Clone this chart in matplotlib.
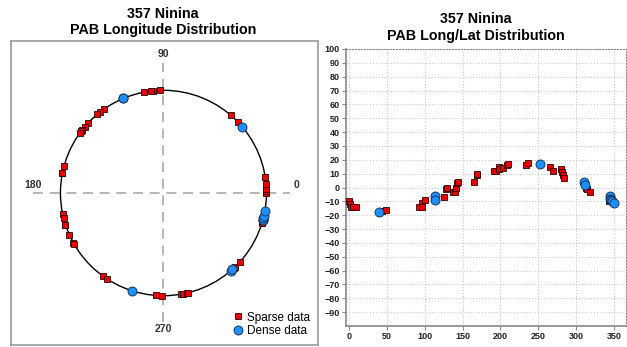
import numpy as np
import matplotlib
matplotlib.use("Agg")
import matplotlib.pyplot as plt

# PAB longitudes / latitudes (deg)
sparse_lon = [0, 1, 2, 5, 9, 44, 49, 92, 96, 97, 101, 125, 128, 130,
              137, 140, 142, 143, 144, 165, 169, 169, 192, 194, 198, 198,
              204, 209, 210, 234, 237, 266, 269, 280, 281, 283, 284,
              313, 314, 318, 343, 344]
sparse_lat = [-10, -12, -14, -14, -14, -17, -16, -14, -11, -14, -9, -7, -1, 0,
              -3, -3, 0, 3, 4, 4, 9, 10, 12, 12, 15, 13,
              14, 16, 17, 16, 18, 15, 12, 13, 11, 9, 7,
              0, -1, -3, -8, -10]
dense_lon = [40, 113, 113, 252, 311, 312, 345, 345, 346, 347, 350]
dense_lat = [-18, -6, -9, 17, 4, 2, -6, -8, -9, -10, -11]

polar_labels = ["0", "90", "180", "270"]
y_ticks = list(range(-90, 101, 10))
x_ticks = list(range(0, 351, 50))

red = '#e60000'
blue = '#1e8fff'

plt.rcParams['font.family'] = ['Liberation Sans', 'DejaVu Sans']

W, H = 627, 347
fig = plt.figure(figsize=(W / 100, H / 100), dpi=100)


def box(x0, y0, x1, y1):
    return [x0 / W, 1 - y1 / H, (x1 - x0) / W, (y1 - y0) / H]


# ---- left: longitude distribution on a circle ----
ax1 = fig.add_axes(box(11, 41, 318, 345))
ax1.set_xlim(-1.48, 1.50)
ax1.set_ylim(-1.48, 1.48)
ax1.set_xticks([])
ax1.set_yticks([])
for s in ax1.spines.values():
    s.set_color('#999999')
    s.set_linewidth(1.2)

ax1.plot([-1.27, 1.23], [0, 0], ls=(0, (6, 4)), color='#aaaaaa', lw=1.2, zorder=1)
ax1.plot([0, 0], [-1.26, 1.27], ls=(0, (6, 4)), color='#aaaaaa', lw=1.2, zorder=1)
ax1.add_patch(plt.Circle((0, 0), 1, fill=False, color='black', lw=1, zorder=2))

lab_kw = dict(fontsize=7.5, fontweight='bold', color='#333333')
ax1.text(1.29, 0.03, polar_labels[0], ha='center', va='bottom', **lab_kw)
ax1.text(0, 1.30, polar_labels[1], ha='center', va='bottom', **lab_kw)
ax1.text(-1.27, 0.03, polar_labels[2], ha='center', va='bottom', **lab_kw)
ax1.text(0, -1.28, polar_labels[3], ha='center', va='top', **lab_kw)

th_s = np.radians(sparse_lon)
th_d = np.radians(dense_lon)
ax1.plot(np.cos(th_s), np.sin(th_s), 's', ms=4.2, mfc=red, mec='#300000',
         mew=0.6, ls='none', zorder=3, label='Sparse data')
ax1.plot(np.cos(th_d), np.sin(th_d), 'o', ms=6.5, mfc=blue, mec='#102840',
         mew=0.6, ls='none', zorder=4, label='Dense data')
ax1.legend(loc='lower right', frameon=False, fontsize=8.5, handletextpad=0.2,
           handlelength=1.0, borderaxespad=0.6, labelspacing=0.1,
           borderpad=0.1)

fig.text(163 / W, 1 - 14 / H, "357 Ninina", ha='center', va='center',
         fontsize=10.3, fontweight='bold')
fig.text(163 / W, 1 - 30 / H, "PAB Longitude Distribution", ha='center',
         va='center', fontsize=10.3, fontweight='bold')

# ---- right: long/lat scatter ----
ax2 = fig.add_axes(box(346, 49, 626, 326))
ax2.set_xlim(-4, 366)
ax2.set_ylim(-100, 100)
ax2.set_xticks(x_ticks)
ax2.set_yticks(y_ticks)
ax2.grid(True, ls=':', color='#c8c8c8', lw=0.8)
ax2.set_axisbelow(True)
for side in ['left', 'bottom']:
    ax2.spines[side].set_color('#888888')
    ax2.spines[side].set_linewidth(1.2)
for side in ['top', 'right']:
    ax2.spines[side].set_color('#888888')
    ax2.spines[side].set_linestyle(':')
    ax2.spines[side].set_linewidth(0.8)
ax2.tick_params(length=3, width=0.8, color='#888888', labelsize=6.5, pad=1.5)
for t in ax2.get_xticklabels() + ax2.get_yticklabels():
    t.set_fontweight('bold')
    t.set_color('#222222')

ax2.plot(sparse_lon, sparse_lat, 's', ms=4.2, mfc=red, mec='#300000',
         mew=0.6, ls='none', zorder=3)
ax2.plot(dense_lon, dense_lat, 'o', ms=6.5, mfc=blue, mec='#102840',
         mew=0.6, ls='none', zorder=4)

fig.text(476 / W, 1 - 19 / H, "357 Ninina", ha='center', va='center',
         fontsize=10.3, fontweight='bold')
fig.text(476 / W, 1 - 36 / H, "PAB Long/Lat Distribution", ha='center',
         va='center', fontsize=10.3, fontweight='bold')

fig.savefig('out.png', dpi=100)
